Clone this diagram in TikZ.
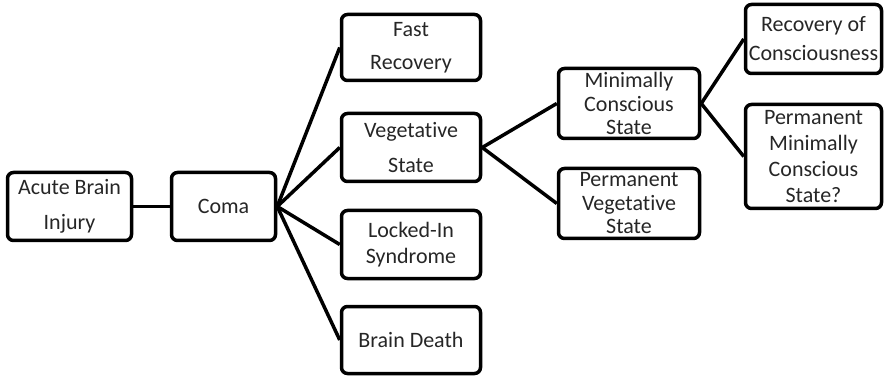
\documentclass[tikz,border=0pt]{standalone}
\usepackage{fontspec}
\setmainfont[Ligatures=NoCommon]{Carlito}
\usepackage{tikz}

\tikzset{box/.style={draw,rounded corners=6pt,line width=3.5pt,align=center,
        inner sep=0pt,font=\fontsize{22}{25}\selectfont,text=black!85}}

\begin{document}
\begin{tikzpicture}[x=1pt,y=1pt,line width=3.5pt]

        \useasboundingbox (0,0) rectangle (884,378);

        \path   (69.5,171.5) node (acute) [box,minimum width=124pt,minimum height=68pt] {Acute Brain\\[10pt]Injury}
                (223.5,171.5) node (coma) [box,minimum width=104pt,minimum height=68pt] {Coma}
                (411,330.5) node (fast) [box,minimum width=139pt,minimum height=66pt] {Fast\\[8pt]Recovery}
                (411,230.5) node (veg) [box,minimum width=139pt,minimum height=68pt] {Vegetative\\[10pt]State}
                (411,133.5) node (locked) [box,minimum width=139pt,minimum height=68pt] {Locked-In\\[1pt]Syndrome}
                (411,38) node (death) [box,minimum width=139pt,minimum height=67pt] {Brain Death}
                (629,274.5) node (mcs) [box,minimum width=141pt,minimum height=70pt] {Minimally\\[-1pt]Conscious\\[-2pt]State}
                (629,174.5) node (pvs) [box,minimum width=141pt,minimum height=70pt] {Permanent\\[-1pt]Vegetative\\[-2pt]State}
                (813.5,339) node (roc) [box,minimum width=136pt,minimum height=69pt] {Recovery of\\[4pt]Consciousness}
                (813.5,221.5) node (pmcs) [box,minimum width=136pt,minimum height=104pt] {Permanent\\[1pt]Minimally\\[1pt]Conscious\\[1pt]State?};

        \draw (acute.east) -- (coma.west);
        \draw (coma.east) -- (fast.west);
        \draw (coma.east) -- (veg.west);
        \draw (coma.east) -- (locked.west);
        \draw (coma.east) -- (death.west);
        \draw (veg.east) -- (mcs.west);
        \draw (veg.east) -- (pvs.west);
        \draw (mcs.east) -- (roc.west);
        \draw (mcs.east) -- (pmcs.west);

\end{tikzpicture}
\end{document}
